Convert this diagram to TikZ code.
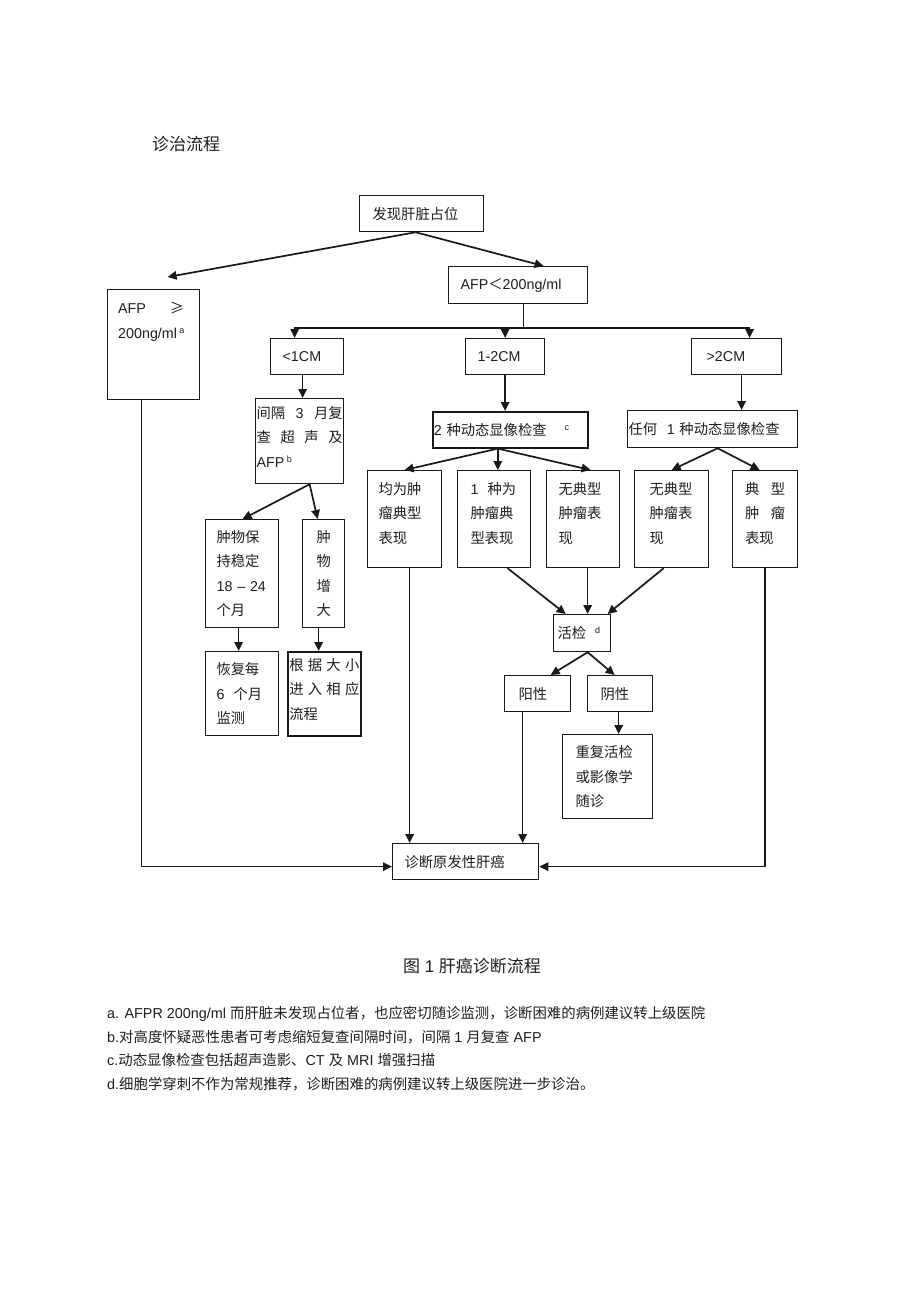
\documentclass[tikz,border=0pt]{standalone}
\usepackage{fontspec}
\setmainfont{Liberation Sans}
\newfontfamily\cjk{Noto Sans CJK SC}
\usetikzlibrary{arrows.meta,calc}
\newcommand\zh[1]{{\cjk #1}}
\newcommand\sps[1]{\raisebox{5pt}{\fontsize{9}{9}\selectfont #1}}
\newcommand\dep[1]{\rule[-#1]{0pt}{#1}}
\begin{document}
\begin{tikzpicture}[x=1pt,y=-1pt,
  box/.style={draw=black!90, line width=1.25pt, anchor=north west, inner sep=0pt, align=left,
    font=\fontsize{14.3}{24.5}\selectfont, text=black!88},
  arr/.style={draw=black!90, line width=1.7pt, -{Triangle[length=9pt,width=8.5pt]}},
  ln/.style={draw=black!90, line width=1.7pt}]
\fill[white] (0,0) rectangle (920,1303);
\useasboundingbox (0,0) rectangle (920,1303);

% title
\node[anchor=west, inner sep=0pt, font=\cjk\fontsize{17}{17}\selectfont, text=black!88] (title) at (152,144) {诊治流程};

% boxes
\node[box, minimum width=124pt, minimum height=36pt, text width=98pt] (top) at (359,195) {\zh{发现肝脏占位}};
\node[box, minimum width=92pt, minimum height=110pt] (afpge) at (107,289) {};
\node[anchor=north west, inner sep=0pt, text width=66pt, align=left, font=\fontsize{14.3}{25}\selectfont, text=black!88] (afpgetxt) at (118,302) {AFP\hfill\zh{≥}\\200ng/ml\,\sps{a}};
\node[box, minimum width=139pt, minimum height=37pt, text width=115pt] (afplt) at (448,266) {AFP\zh{＜}200ng/ml};

\node[box, minimum width=73pt, minimum height=36pt, text width=49pt] (lt1) at (270,338) {<1CM};
\node[box, minimum width=79pt, minimum height=36pt, text width=55pt] (m12) at (465,338) {1-2CM};
\node[box, minimum width=90pt, minimum height=36pt, text width=60pt] (gt2) at (691,338) {>2CM};

\node[box, minimum width=88pt, minimum height=85pt, text width=86pt] (iv) at (255,398)
  {\zh{间隔}\hfill 3\hfill\zh{月复}\\\zh{查}\hfill\zh{超}\hfill\zh{声}\hfill\zh{及}\\AFP\,\sps{b}\dep{9pt}};
\node[box, line width=1.6pt, minimum width=155pt, minimum height=36pt, text width=153pt] (two) at (432,411)
  {2\ \zh{种动态显像检查}\hspace{18pt}\sps{c}};
\node[box, minimum width=170pt, minimum height=37pt, text width=168pt] (any) at (627,410)
  {\zh{任何}\ \ 1\ \zh{种动态显像检查}};

\node[box, minimum width=74pt, minimum height=97pt, text width=52pt] (t1) at (367,470)
  {\zh{均为肿}\\\zh{瘤典型}\\\zh{表现}\dep{13pt}};
\node[box, minimum width=73pt, minimum height=97pt, text width=47pt] (t2) at (457,470)
  {1\hspace{9pt}\zh{种为}\\\zh{肿瘤典}\\\zh{型表现}\dep{13pt}};
\node[box, minimum width=73pt, minimum height=97pt, text width=49pt] (t3) at (546,470)
  {\zh{无典型}\\\zh{肿瘤表}\\\zh{现}\dep{13pt}};
\node[box, minimum width=74pt, minimum height=97pt, text width=44pt] (t4) at (634,470)
  {\zh{无典型}\\\zh{肿瘤表}\\\zh{现}\dep{13pt}};
\node[box, minimum width=65pt, minimum height=97pt, text width=40pt] (t5) at (732,470)
  {\zh{典}\hfill\zh{型}\\\zh{肿}\hfill\zh{瘤}\\\zh{表现}\dep{13pt}};

\node[box, minimum width=73pt, minimum height=108pt, text width=51pt] (st) at (205,519)
  {\zh{肿物保}\\\zh{持稳定}\\18\ –\ 24\\\zh{个月}};
\node[box, minimum width=42pt, minimum height=108pt, text width=14pt, align=center] (gr) at (302,519)
  {\zh{肿}\\\zh{物}\\\zh{增}\\\zh{大}};
\node[box, minimum width=73pt, minimum height=84pt, text width=51pt] (rec) at (205,651)
  {\zh{恢复每}\\6\hspace{9pt}\zh{个月}\\\zh{监测}};
\node[box, line width=1.6pt, minimum width=73pt, minimum height=84pt, text width=70pt] (acc) at (287,651)
  {\zh{根}\hfill\zh{据}\hfill\zh{大}\hfill\zh{小}\\\zh{进}\hfill\zh{入}\hfill\zh{相}\hfill\zh{应}\\\zh{流程}\dep{10pt}};

\node[box, minimum width=57pt, minimum height=37pt, text width=49pt] (bio) at (553,614)
  {\zh{活检}\hspace{9pt}\sps{d}};
\node[box, minimum width=66pt, minimum height=36pt, text width=38pt] (pos) at (504,675) {\zh{阳性}};
\node[box, minimum width=65pt, minimum height=36pt, text width=39pt] (neg) at (587,675) {\zh{阴性}};
\node[box, minimum width=90pt, minimum height=84pt, text width=64pt] (rep) at (562,734)
  {\zh{重复活检}\\\zh{或影像学}\\\zh{随诊}};
\node[box, minimum width=146pt, minimum height=36pt, text width=122pt] (diag) at (392,843)
  {\zh{诊断原发性肝癌}};

% connector points
\coordinate (s0) at ($(top.south)+(-6,0)$);
\coordinate (s1) at ($(afplt.south)+(5.5,0)$);
\coordinate (bar) at ($(s1)+(0,24)$);
\coordinate (c1) at ($(lt1.south)+(-4.5,0)$);
\coordinate (c2) at ($(iv.south)+(10,0)$);
\coordinate (c3) at ($(st.south)+(-3.5,0)$);
\coordinate (c4) at ($(gr.south)+(-5,0)$);
\coordinate (c5) at ($(gt2.south)+(5,0)$);
\coordinate (c6) at ($(two.south)+(-12.5,0)$);
\coordinate (c7) at ($(any.south)+(5,0)$);
\coordinate (c8) at ($(t2.south)+(13.5,0)$);
\coordinate (c9) at ($(t3.south)+(4.5,0)$);
\coordinate (c10) at ($(t4.south)+(-8,0)$);
\coordinate (c11) at ($(bio.south)+(5.5,0)$);
\coordinate (c12) at ($(neg.south)+(-1.5,0)$);
\coordinate (c13) at ($(t1.south)+(5,0)$);
\coordinate (c14) at ($(pos.south)+(-15,0)$);
\coordinate (c15) at ($(afpge.south)+(-12,0)$);

% connectors
\draw[arr] (s0) -- ($(afpge.north)+(14,-12)$);
\draw[arr] (s0) -- ($(afplt.north)+(25.5,0)$);
\draw[ln] (s1) -- (bar);
\draw[arr] (bar) -| ($(lt1.north)+(-12.5,0)$);
\draw[arr] (bar) -| (m12.north);
\draw[arr] (bar) -| ($(gt2.north)+(13,0)$);
\draw[arr] (c1) -- (c1 |- iv.north);
\draw[arr] (c2) -- ($(st.north)+(0.5,0)$);
\draw[arr] (c2) -- ($(gr.north)+(-6,0)$);
\draw[arr] (c3) -- (c3 |- rec.north);
\draw[arr] (c4) -- (c4 |- acc.north);
\draw[arr] (m12.south) -- (m12.south |- two.north);
\draw[arr] (c5) -- (c5 |- any.north);
\draw[arr] (c6) -- (t1.north);
\draw[arr] (c6) -- (c6 |- t2.north);
\draw[arr] (c6) -- ($(t3.north)+(7.5,0)$);
\draw[arr] (c7) -- (t4.north);
\draw[arr] (c7) -- ($(t5.north)+(-5.5,0)$);
\draw[arr] (c8) -- ($(bio.north)+(-16.5,0)$);
\draw[arr] (c9) -- (c9 |- bio.north);
\draw[arr] (c10) -- ($(bio.north)+(25.5,0)$);
\draw[arr] (c11) -- ($(pos.north)+(13,0)$);
\draw[arr] (c11) -- ($(neg.north)+(-5.5,0)$);
\draw[arr] (c12) -- (c12 |- rep.north);
\draw[arr] (c13) -- (c13 |- diag.north);
\draw[arr] (c14) -- (c14 |- diag.north);
\draw[arr] (c15) |- ($(diag.west)+(0,5)$);
\draw[arr] (t5.south) |- ($(diag.east)+(0,5)$);

% caption and notes
\node[inner sep=0pt, font=\fontsize{17}{17}\selectfont, text=black!88] (cap) at (472,966) {\zh{图} 1 \zh{肝癌诊断流程}};
\begin{scope}[every node/.style={anchor=base west, inner sep=0pt, font=\fontsize{14.4}{14.4}\selectfont, text=black!88}]
\node (fa) at (107,1018) {a. AFPR 200ng/ml \zh{而肝脏未发现占位者，也应密切随诊监测，诊断困难的病例建议转上级医院}};
\node (fb) at (107,1042) {b.\zh{对高度怀疑恶性患者可考虑缩短复查间隔时间，间隔} 1 \zh{月复查} AFP};
\node (fc) at (107,1065) {c.\zh{动态显像检查包括超声造影、}CT \zh{及} MRI \zh{增强扫描}};
\node (fd) at (107,1089) {d.\zh{细胞学穿刺不作为常规推荐，诊断困难的病例建议转上级医院进一步诊治。}};
\end{scope}
\end{tikzpicture}
\end{document}
